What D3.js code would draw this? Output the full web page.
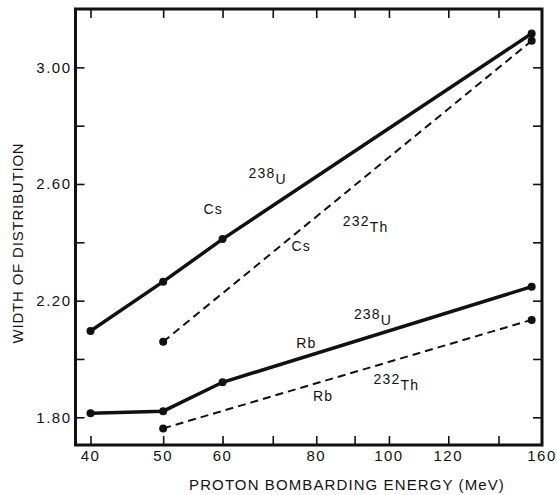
<!DOCTYPE html>
<html>
<head>
<meta charset="utf-8">
<script src="https://cdn.jsdelivr.net/npm/d3@7"></script>
<style>
  body { margin: 0; background: #fff; }
  text { font-family: "Liberation Sans", Arial, sans-serif; fill: #111; }
</style>
</head>
<body>
<div id="chart"></div>
<script>
// values (energy in MeV, width of distribution)
const csU = [[40, 2.096], [50, 2.265], [60, 2.411], [155, 3.116]];
const csTh = [[50, 2.059], [155, 3.091]];
const rbU = [[40, 1.814], [50, 1.821], [60, 1.920], [155, 2.248]];
const rbTh = [[50, 1.762], [155, 2.134]];

const xTicks = [40, 50, 60, 70, 80, 90, 100, 120, 140];
const xLabels = [40, 50, 60, 80, 100, 120, 160];
const yTicks = [1.8, 2.0, 2.2, 2.4, 2.6, 2.8, 3.0];
const yLabels = [1.8, 2.2, 2.6, 3.0];

// annotations: [energy, value, main text, shifted text]
const notes = [
  [58.3, 2.513, 'Cs', ''],
  [65.0, 2.62, '238', 'U'],
  [76.4, 2.387, 'Cs', ''],
  [86.8, 2.456, '232', 'Th'],
  [77.6, 2.056, 'Rb', ''],
  [89.8, 2.137, '238', 'U'],
  [95.4, 1.914, '232', 'Th'],
  [81.7, 1.873, 'Rb', '']
];

const width = 557;
const height = 495;
const svg = d3.select('#chart').append('svg')
  .attr('width', width)
  .attr('height', height);

const plotL = 75.5, plotR = 542, plotT = 9, plotB = 445;

// energy axis is logarithmic
const x = d3.scaleLog().domain([38.2, 160]).range([plotL, plotR]);
const y = d3.scaleLinear().domain([1.705, 3.2]).range([plotB, plotT]);

// frame
svg.append('rect')
  .attr('x', plotL).attr('y', plotT)
  .attr('width', plotR - plotL).attr('height', plotB - plotT)
  .attr('fill', 'none').attr('stroke', '#111').attr('stroke-width', 3);

// inward ticks
const tickLen = 9;
const axB = d3.axisTop(x).tickValues(xTicks).tickSize(tickLen).tickFormat('');
const axT = d3.axisBottom(x).tickValues(xTicks).tickSize(tickLen).tickFormat('');
const axL = d3.axisRight(y).tickValues(yTicks).tickSize(tickLen).tickFormat('');
const axR = d3.axisLeft(y).tickValues(yTicks).tickSize(tickLen).tickFormat('');

function styleAxis(g) {
  g.select('.domain').remove();
  g.selectAll('line').attr('stroke', '#111').attr('stroke-width', 1.6);
}
svg.append('g').attr('transform', `translate(0,${plotB})`).call(axB).call(styleAxis);
svg.append('g').attr('transform', `translate(0,${plotT})`).call(axT).call(styleAxis);
svg.append('g').attr('transform', `translate(${plotL},0)`).call(axL).call(styleAxis);
svg.append('g').attr('transform', `translate(${plotR},0)`).call(axR).call(styleAxis);

// tick labels
svg.append('g').selectAll('text')
  .data(xLabels)
  .enter().append('text')
  .attr('x', d => x(d))
  .attr('y', plotB + 15.5)
  .attr('text-anchor', 'middle')
  .attr('font-size', 15)
  .attr('letter-spacing', 1.5)
  .text(d => d);

svg.append('g').selectAll('text')
  .data(yLabels)
  .enter().append('text')
  .attr('x', plotL - 4)
  .attr('y', d => y(d) + 5.5)
  .attr('text-anchor', 'end')
  .attr('font-size', 15)
  .attr('letter-spacing', 1.5)
  .text(d => d.toFixed(2));

// axis titles
svg.append('text')
  .attr('x', 347)
  .attr('y', 490)
  .attr('text-anchor', 'middle')
  .attr('font-size', 15)
  .attr('letter-spacing', 1.1)
  .text('PROTON BOMBARDING ENERGY (MeV)');

svg.append('text')
  .attr('transform', 'translate(23,243) rotate(-90)')
  .attr('text-anchor', 'middle')
  .attr('font-size', 15)
  .attr('letter-spacing', 0.8)
  .text('WIDTH OF DISTRIBUTION');

// curves
const line = d3.line().x(d => x(d[0])).y(d => y(d[1]));
const series = [
  { data: csU, dash: null, w: 3.5 },
  { data: csTh, dash: '8,5', w: 2 },
  { data: rbU, dash: null, w: 3.5 },
  { data: rbTh, dash: '8,5', w: 2 }
];

series.forEach(s => {
  svg.append('path')
    .attr('d', line(s.data))
    .attr('fill', 'none')
    .attr('stroke', '#111')
    .attr('stroke-width', s.w)
    .attr('stroke-dasharray', s.dash);
  svg.append('g').selectAll('circle')
    .data(s.data)
    .enter().append('circle')
    .attr('cx', d => x(d[0]))
    .attr('cy', d => y(d[1]))
    .attr('r', 4)
    .attr('fill', '#111');
});

// labels on the curves
notes.forEach(n => {
  const t = svg.append('text')
    .attr('x', x(n[0]))
    .attr('y', y(n[1]))
    .attr('font-size', 14)
    .attr('letter-spacing', 1.2);
  if (n[3] === '') {
    t.attr('text-anchor', 'middle').attr('dy', 5).text(n[2]);
  } else {
    t.append('tspan').text(n[2]);
    t.append('tspan').attr('dy', 6).text(n[3]);
  }
});
</script>
</body>
</html>
